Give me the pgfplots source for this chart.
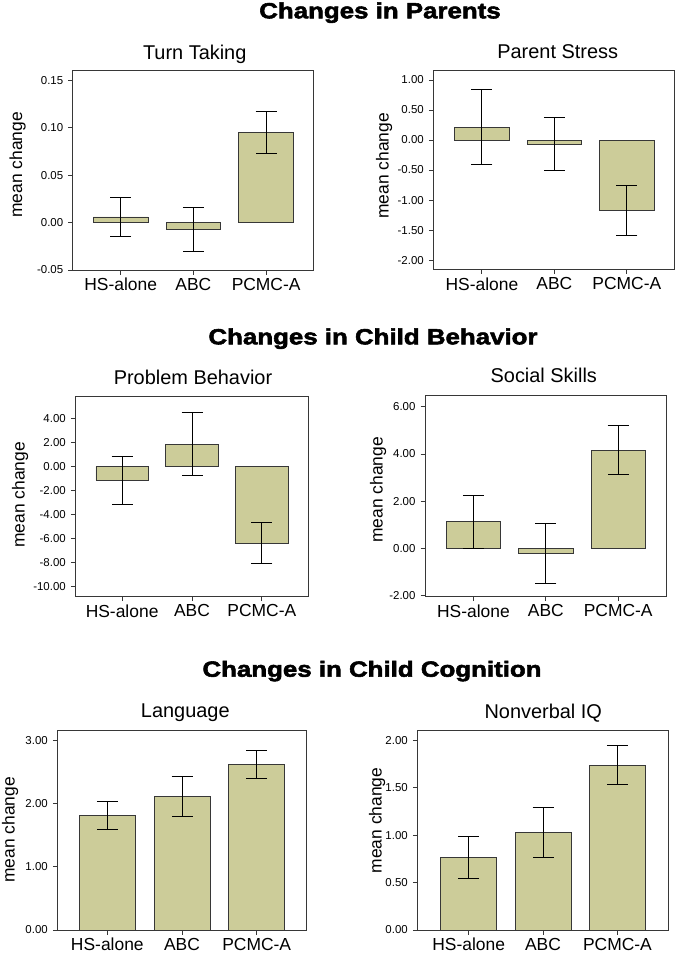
\documentclass[border=0pt]{standalone}
\usepackage{fontspec}
\setmainfont{Liberation Sans}
\newfontfamily\heavy[FakeBold=2.5,FakeStretch=1.18]{Liberation Sans Bold}
\usepackage{pgfplots}
\pgfplotsset{compat=1.18}
\definecolor{barcol}{RGB}{204,204,153}
\definecolor{axcol}{RGB}{55,55,55}
\pgfplotsset{
  panel/.style={
    scale only axis, anchor=north west,
    ybar, bar width=0.75,
    xmin=-0.67, xmax=2.66,
    xtick={0,1,2}, xticklabels={HS-alone,ABC,PCMC-A},
    tick align=outside, major tick length=4.5bp,
    xtick pos=bottom, ytick pos=left,
    axis line style={axcol, line width=0.9bp},
    every tick/.style={axcol, line width=0.9bp},
    x tick label style={font=\fontsize{17.5}{20}\selectfont},
    y tick label style={font=\fontsize{11.5}{13}\selectfont, xshift=-1.5bp},
    yticklabel style={/pgf/number format/.cd, fixed, fixed zerofill, precision=2},
    scaled y ticks=false,
    /pgf/number format/assume math mode=true,
    error bars/y dir=both, error bars/y explicit,
    error bars/error bar style={black, line width=1bp},
    error bars/error mark options={rotate=90, black, line width=1bp, mark size=10.5bp},
  },
  mybar/.style={fill=barcol, draw=axcol, line width=0.8bp},
}
\begin{document}
\begin{tikzpicture}
\useasboundingbox (0,0) rectangle (677bp,-957bp);
% group titles
\node[anchor=base, font=\heavy\fontsize{22}{24}\selectfont] at (380bp,-18.3bp) {Changes in Parents};
\node[anchor=base, font=\heavy\fontsize{22}{24}\selectfont] at (373bp,-344.3bp) {Changes in Child Behavior};
\node[anchor=base, font=\heavy\fontsize{22}{24}\selectfont] at (372bp,-676.7bp) {Changes in Child Cognition};
% subtitles
\begin{scope}[every node/.style={anchor=base, font=\fontsize{20}{22}\selectfont}]
\node at (194.7bp,-59.3bp) {Turn Taking};
\node at (557.7bp,-58.3bp) {Parent Stress};
\node at (193bp,-384.3bp) {Problem Behavior};
\node at (543.8bp,-382.3bp) {Social Skills};
\node at (185.3bp,-717.3bp) {Language};
\node at (543.3bp,-718.3bp) {Nonverbal IQ};
\end{scope}
% y labels
\begin{scope}[every node/.style={rotate=90, font=\fontsize{17.5}{20}\selectfont}]
\node at (17.5bp,-165bp) {mean change};
\node at (384bp,-166bp) {mean change};
\node at (20bp,-495bp) {mean change};
\node at (378bp,-490bp) {mean change};
\node at (10bp,-830bp) {mean change};
\node at (377bp,-820.5bp) {mean change};
\end{scope}
% Turn Taking
\begin{axis}[panel, at={(72.7bp,-70bp)}, width=240.7bp, height=200bp,
  ymin=-0.05, ymax=0.161, ytick={-0.05,0,0.05,0.1,0.15}, xmin=-0.66, xmax=2.65]
\addplot[mybar] coordinates {(0,0.006) +- (0,0.021) (1,-0.0075) +- (0,0.0235) (2,0.095) +- (0,0.022)};
\end{axis}
% Parent Stress
\begin{axis}[panel, at={(433.3bp,-70.7bp)}, width=240.7bp, height=198.7bp,
  ymin=-2.155, ymax=1.155, ytick={-2,-1.5,-1,-0.5,0,0.5,1}, xmin=-0.67, xmax=2.65]
\addplot[mybar] coordinates {(0,0.215) +- (0,0.628) (1,-0.067) +- (0,0.437) (2,-1.175) +- (0,0.41)};
\end{axis}
% Problem Behavior
\begin{axis}[panel, at={(75.3bp,-396bp)}, width=232.7bp, height=200.7bp,
  ymin=-10.83, ymax=5.89, ytick={-10,-8,-6,-4,-2,0,2,4}]
\addplot[mybar] coordinates {(0,-1.14) +- (0,1.99) (1,1.88) +- (0,2.61) (2,-6.37) +- (0,1.735)};
\end{axis}
% Social Skills
\begin{axis}[panel, at={(425bp,-395.3bp)}, width=241bp, height=201.3bp,
  ymin=-2.03, ymax=6.48, ytick={-2,0,2,4,6}]
\addplot[mybar] coordinates {(0,1.13) +- (0,1.12) (1,-0.2) +- (0,1.26) (2,4.15) +- (0,1.035)};
\end{axis}
% Language
\begin{axis}[panel, at={(57.3bp,-730.7bp)}, width=248.7bp, height=199.3bp,
  ymin=0, ymax=3.16, ytick={0,1,2,3}]
\addplot[mybar] coordinates {(0,1.81) +- (0,0.22) (1,2.12) +- (0,0.315) (2,2.62) +- (0,0.225)};
\end{axis}
% Nonverbal IQ
\begin{axis}[panel, at={(417.3bp,-730bp)}, width=250.7bp, height=200bp,
  ymin=0, ymax=2.11, ytick={0,0.5,1,1.5,2}, xmin=-0.69, xmax=2.68]
\addplot[mybar] coordinates {(0,0.765) +- (0,0.225) (1,1.03) +- (0,0.26) (2,1.74) +- (0,0.207)};
\end{axis}
\end{tikzpicture}
\end{document}
